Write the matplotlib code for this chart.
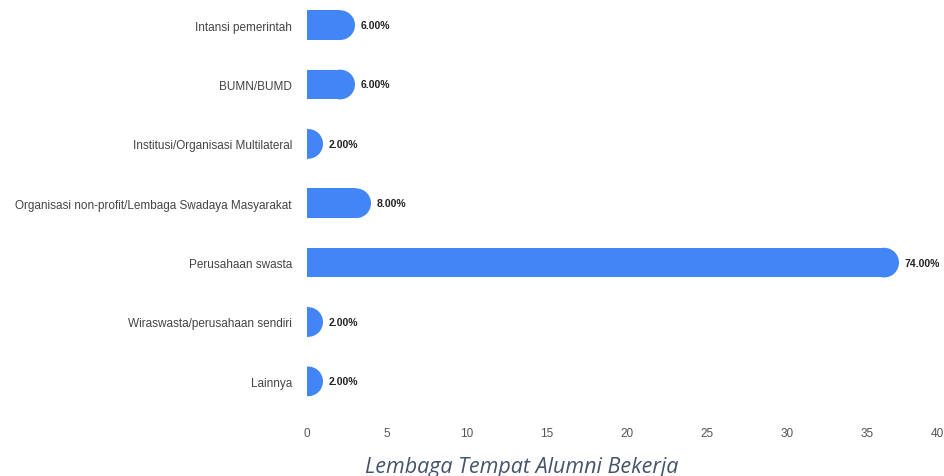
import matplotlib
matplotlib.use("Agg")
import matplotlib.pyplot as plt
from matplotlib.patches import Rectangle, Ellipse
from matplotlib.transforms import ScaledTranslation

categories = ["Intansi pemerintah", "BUMN/BUMD", "Institusi/Organisasi Multilateral",
              "Organisasi non-profit/Lembaga Swadaya Masyarakat", "Perusahaan swasta",
              "Wiraswasta/perusahaan sendiri", "Lainnya"]
counts = [3, 3, 1, 4, 37, 1, 1]
pct_labels = ["6.00%", "6.00%", "2.00%", "8.00%", "74.00%", "2.00%", "2.00%"]
xticks = [0, 5, 10, 15, 20, 25, 30, 35, 40]
title = "Lembaga Tempat Alumni Bekerja"

W, H = 945, 477
fig = plt.figure(figsize=(W / 100, H / 100), dpi=100)
ax_l, ax_r, ax_t, ax_b = 307, 947, 0, 418
ax = fig.add_axes([ax_l / W, 1 - ax_b / H, (ax_r - ax_l) / W, (ax_b - ax_t) / H])

blue = "#4285F4"
xmin, xmax = 0, 40
ytop, ybot = -0.44, 6.60
ax.set_xlim(xmin, xmax)
ax.set_ylim(ybot, ytop)
bar_h = 0.5

px_per_x = (ax_r - ax_l) / (xmax - xmin)
px_per_y = (ax_b - ax_t) / (ybot - ytop)
r_px = bar_h * px_per_y / 2
rx = r_px / px_per_x

for i, v in enumerate(counts):
    body = max(v - rx, 0)
    ax.add_patch(Rectangle((0, i - bar_h / 2), body, bar_h, facecolor=blue, edgecolor="none"))
    ax.add_patch(Ellipse((body, i), 2 * rx, bar_h, facecolor=blue, edgecolor="none"))
    ax.text(v + 6 / px_per_x, i, pct_labels[i], va="center", ha="left",
            fontsize=7.5, fontweight="bold", color="#222222", family="Liberation Sans")

ax.set_yticks(range(len(categories)))
ax.set_yticklabels(categories, fontsize=8.5, color="#444444", family="Liberation Sans")
ax.set_xticks(xticks)
ax.set_xticklabels([str(t) for t in xticks], fontsize=8.5, color="#555555", family="Liberation Sans")
ax.tick_params(axis="both", length=0)
ax.tick_params(axis="y", pad=10.8)
ax.tick_params(axis="x", pad=7.5)
last = ax.get_xticklabels()[-1]
last.set_horizontalalignment("right")
last.set_transform(last.get_transform() + ScaledTranslation(-3 / 100, 0, fig.dpi_scale_trans))
for s in ax.spines.values():
    s.set_visible(False)

fig.text(522 / W, 1 - 473 / H, title, ha="center", va="baseline", fontsize=15.5,
         style="italic", color="#44546A", family="Open Sans")

fig.savefig("out.png", dpi=100)
